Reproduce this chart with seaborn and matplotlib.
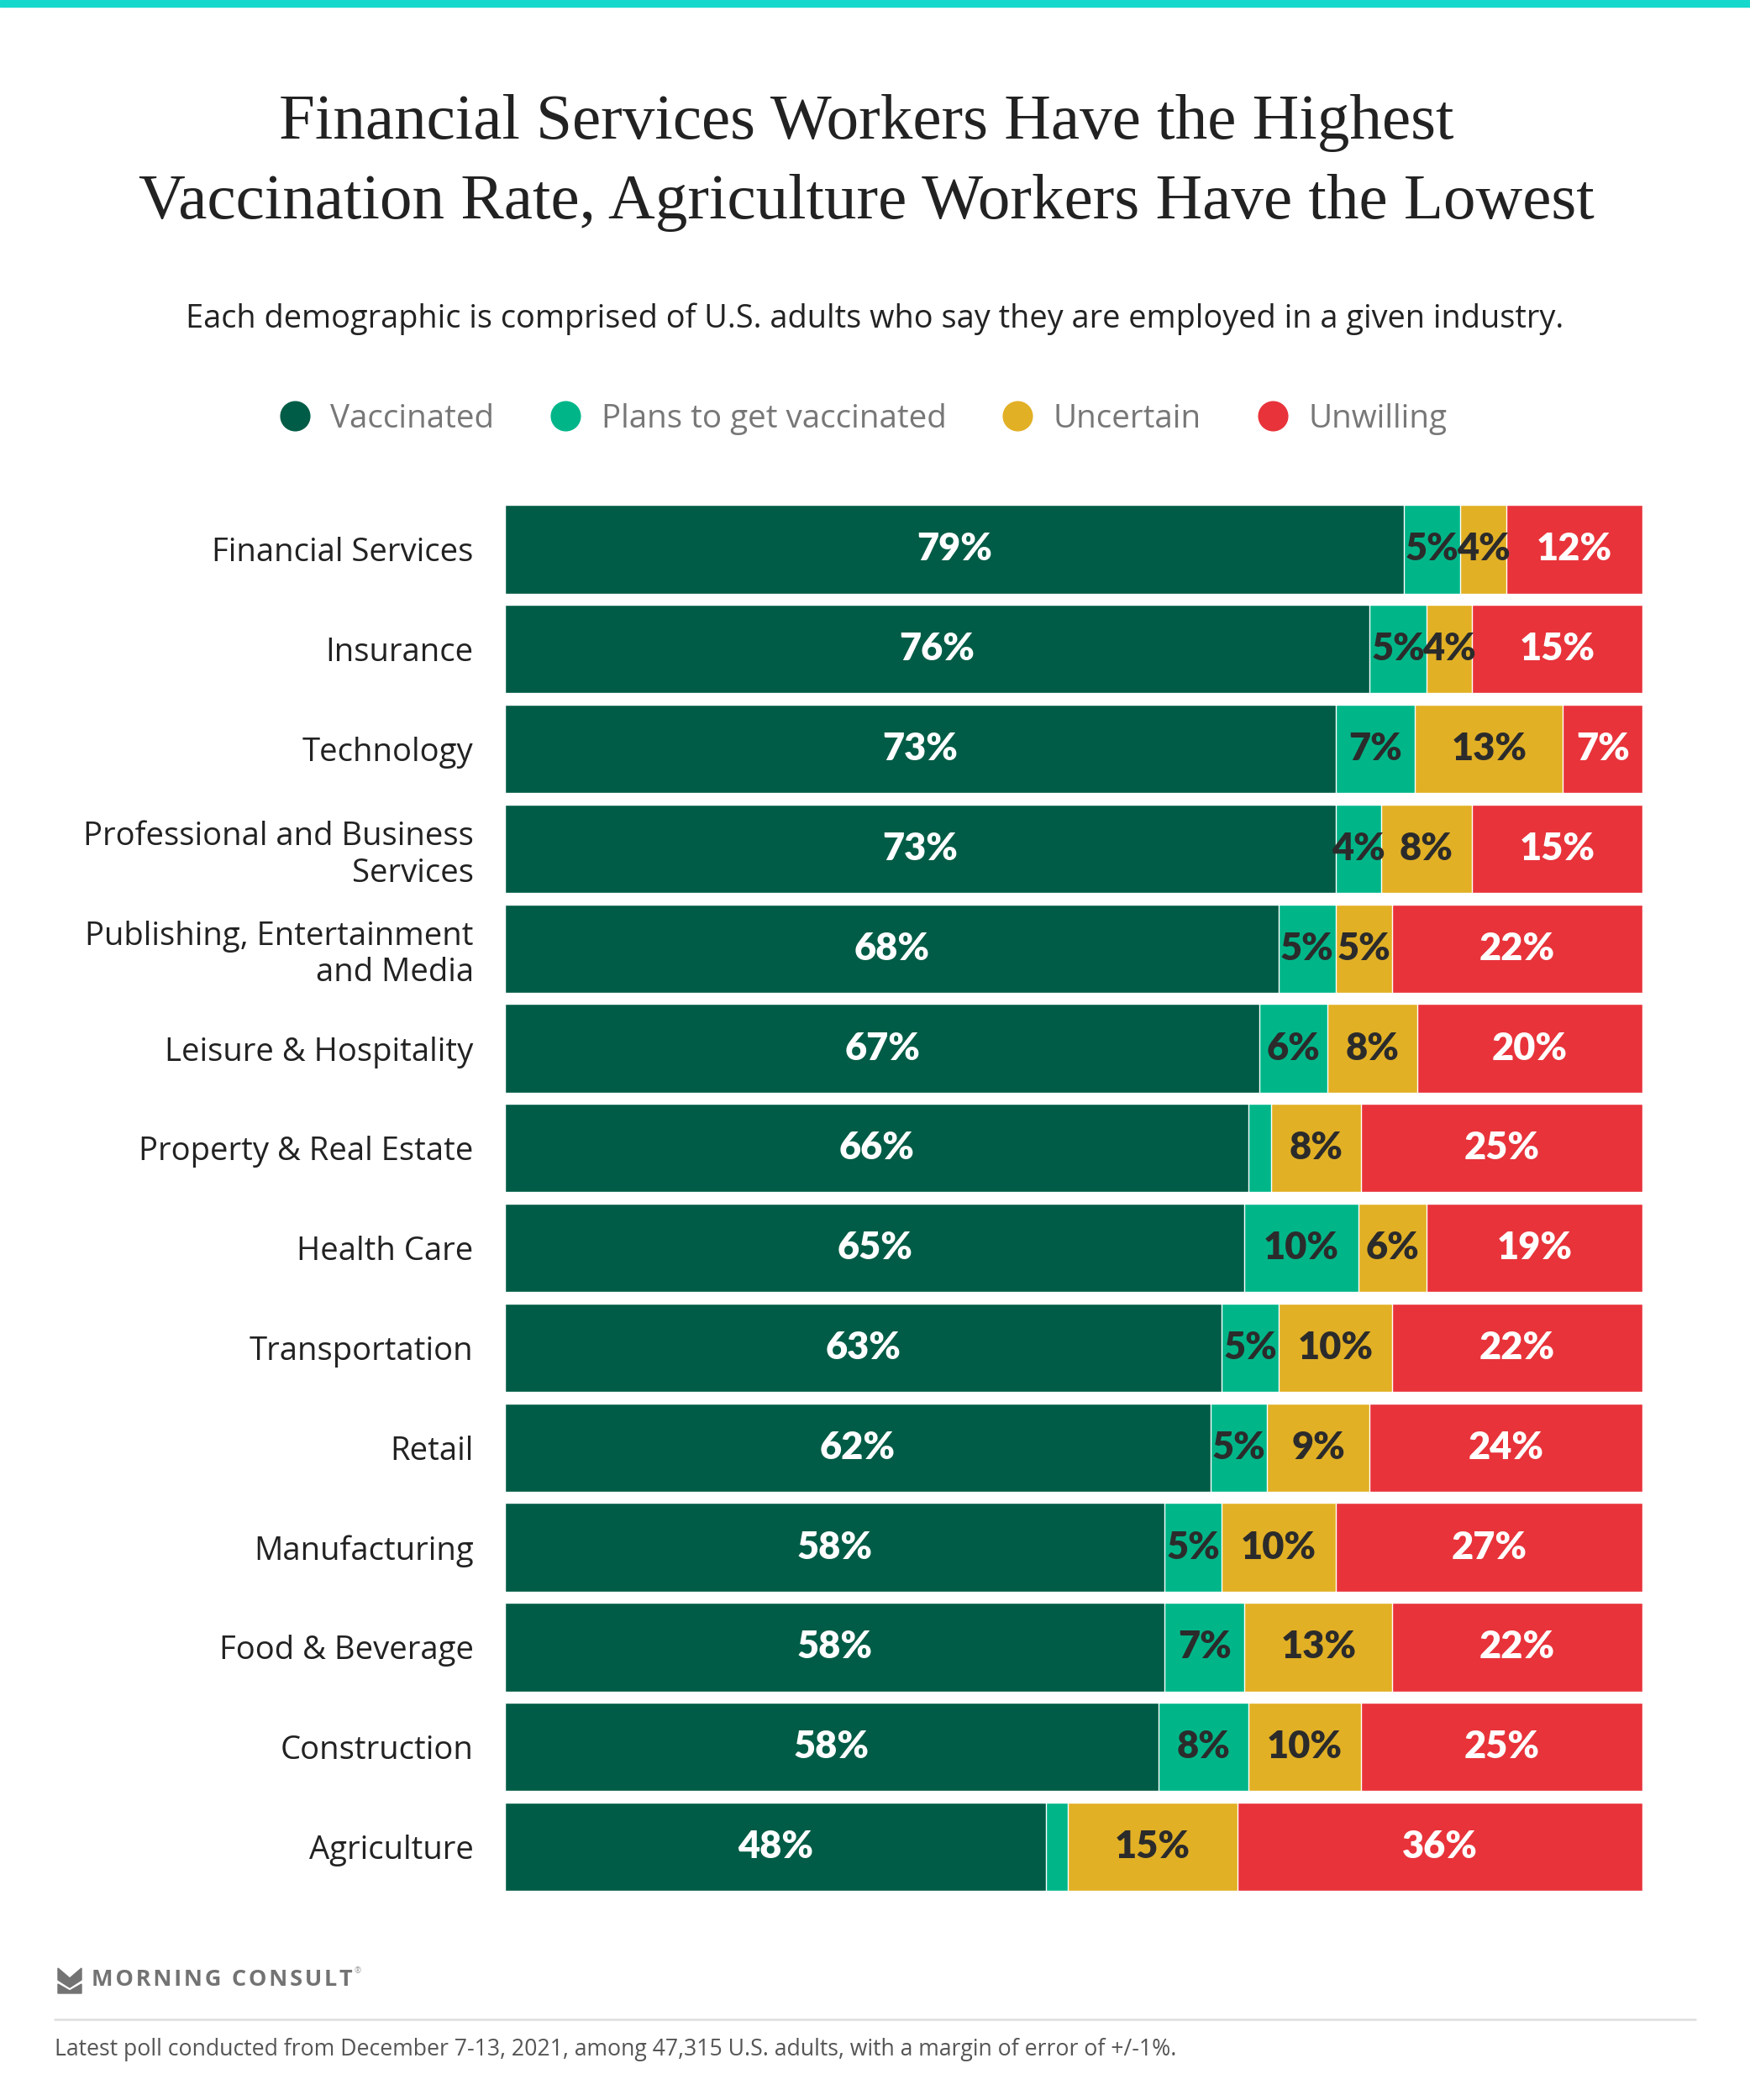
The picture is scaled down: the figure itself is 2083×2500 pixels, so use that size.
import numpy as np
import pandas as pd
import matplotlib.pyplot as plt
import seaborn as sns
from matplotlib.lines import Line2D
from matplotlib.patches import Polygon

industries = ["Financial Services", "Insurance", "Technology",
              "Professional and Business\nServices",
              "Publishing, Entertainment\nand Media",
              "Leisure & Hospitality", "Property & Real Estate", "Health Care",
              "Transportation", "Retail", "Manufacturing", "Food & Beverage",
              "Construction", "Agriculture"]
vaccinated = [79, 76, 73, 73, 68, 67, 66, 65, 63, 62, 58, 58, 58, 48]
plans = [5, 5, 7, 4, 5, 6, 2, 10, 5, 5, 5, 7, 8, 2]
uncertain = [4, 4, 13, 8, 5, 8, 8, 6, 10, 9, 10, 13, 10, 15]
unwilling = [12, 15, 7, 15, 22, 20, 25, 19, 22, 24, 27, 22, 25, 36]

series = ["Vaccinated", "Plans to get vaccinated", "Uncertain", "Unwilling"]
colors = ["#005C46", "#00B689", "#E2B025", "#E8333A"]
label_colors = ["white", "#2b2b2b", "#2b2b2b", "white"]

df = pd.DataFrame({"industry": industries, "Vaccinated": vaccinated,
                   "Plans to get vaccinated": plans, "Uncertain": uncertain,
                   "Unwilling": unwilling})
# rounded values may not add to 100, scale each row so bars fill the width
total = df[series].sum(axis=1)
share = df[series].div(total, axis=0) * 100
cum = share.cumsum(axis=1)

sns.set_theme(style="white")
plt.rcParams["font.family"] = ["Open Sans", "DejaVu Sans"]

fig = plt.figure(figsize=(20.83, 25), dpi=100)
ax = fig.add_axes([0.2886, 0.0968, 0.65, 0.6654])

# stacked bars: draw the running totals from the widest down
for i in range(len(series) - 1, -1, -1):
    sns.barplot(x=cum[series[i]].values, y=df["industry"], orient="h",
                color=colors[i], width=0.886, saturation=1, ax=ax)

for r in range(len(df)):
    left = 0
    for i, s in enumerate(series):
        v = df[s].iloc[r]
        w = share[s].iloc[r]
        if v >= 4:
            ax.text(left + w / 2, r, "{}%".format(v), ha="center", va="center",
                    color=label_colors[i], fontsize=32.5, fontweight="heavy",
                    family=["Lato", "DejaVu Sans"])
        left += w

ax.set_xlim(0, 100)
ax.set_ylim(len(df) - 0.5, -0.5)
ax.set_xlabel("")
ax.set_ylabel("")
ax.set_xticks([])
ax.tick_params(axis="y", length=0, pad=27, labelsize=27.5, labelcolor="#222222")
for sp in ax.spines.values():
    sp.set_visible(False)

# top accent strip
fig.patches.append(plt.Rectangle((0, 0.9968), 1, 0.0032, transform=fig.transFigure,
                                 color="#14D8CB", zorder=5))

fig.text(0.495, 0.9415, "Financial Services Workers Have the Highest",
         ha="center", va="center", fontsize=55.5, color="#222222",
         family=["Liberation Serif", "DejaVu Serif"])
fig.text(0.495, 0.9035, "Vaccination Rate, Agriculture Workers Have the Lowest",
         ha="center", va="center", fontsize=55.5, color="#222222",
         family=["Liberation Serif", "DejaVu Serif"])
fig.text(0.500, 0.848, "Each demographic is comprised of U.S. adults who say they are employed in a given industry.",
         ha="center", va="center", fontsize=27.3, color="#222222")

handles = [Line2D([0], [0], marker="o", linestyle="", markersize=25,
                  markerfacecolor=c, markeredgecolor=c) for c in colors]
fig.legend(handles, series, loc="center", bbox_to_anchor=(0.493, 0.8005), ncol=4,
           frameon=False, fontsize=27.8, labelcolor="#777777", handlelength=1.0,
           handletextpad=0.6, columnspacing=1.7)

# logo: chevron mark plus spaced word mark
W, H = 2083.0, 2500.0
L, R, C, T = 69, 97, 83, 2343
upper = [(L, T), (C, T + 12), (R, T), (R, T + 14), (C, T + 23), (L, T + 14)]
lower = [(L, T + 19), (C, T + 27), (R, T + 19), (R, T + 30), (L, T + 30)]
for pts in [upper, lower]:
    fig.patches.append(Polygon([(x / W, 1 - y / H) for x, y in pts], closed=True,
                               transform=fig.transFigure, color="#737373"))
fig.text(0.0525, 0.0572, "\u200a".join("MORNING CONSULT"), ha="left", va="center",
         fontsize=19.5, fontweight="bold", color="#737373",
         family=["Open Sans", "DejaVu Sans"])
fig.text(0.2025, 0.0612, "\u00ae", ha="left", va="center", fontsize=7,
         color="#999999")

fig.add_artist(Line2D([0.031, 0.969], [0.0384, 0.0384], transform=fig.transFigure,
                      color="#dddddd", linewidth=1.8))
fig.text(0.031, 0.024, "Latest poll conducted from December 7-13, 2021, among 47,315 U.S. adults, with a margin of error of +/-1%.",
         ha="left", va="center", fontsize=19.2, color="#555555")

fig.savefig("out.png", dpi=100)
